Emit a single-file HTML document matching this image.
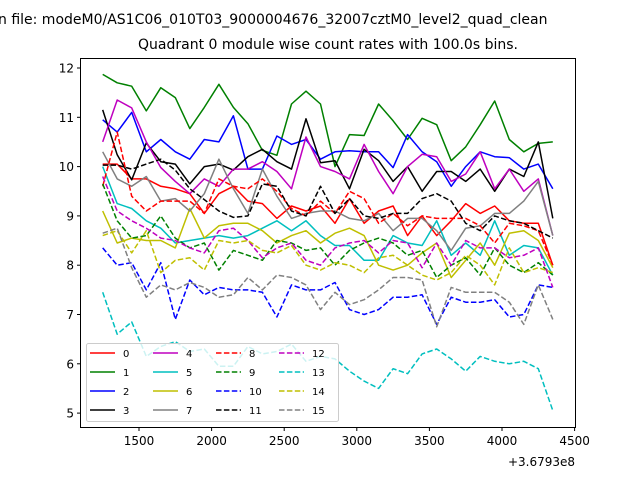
<!DOCTYPE html>
<html><head><meta charset="utf-8"><style>
body{margin:0;background:#fff}
svg{display:block;font-family:"DejaVu Sans","Liberation Sans",sans-serif}
</style></head><body>
<svg id="chart" width="640" height="480" viewBox="0 0 640 480">
<rect width="640" height="480" fill="#fff"/>
<text x="-2" y="24" font-size="14">n file: modeM0/AS1C06_010T03_9000004676_32007cztM0_level2_quad_clean</text>
<text x="328" y="49" font-size="14" text-anchor="middle">Quadrant 0 module wise count rates with 100.0s bins.</text>
<g id="axes"></g>
<g id="series"></g>
<g id="legend"></g>
<rect x="80.5" y="58.5" width="495" height="369" fill="none" stroke="#000" stroke-width="1"/>
<text x="575" y="466" font-size="12" text-anchor="end">+3.6793e8</text>
</svg>
<script>
const xTicks=[1500,2000,2500,3000,3500,4000,4500];
const yTicks=[5,6,7,8,9,10,11,12];
const times=[1250,1350,1450,1550,1650,1750,1850,1950,2050,2150,2250,2350,2450,2550,2650,2750,2850,2950,3050,3150,3250,3350,3450,3550,3650,3750,3850,3950,4050,4150,4250,4350];
const s0=[10.05,10.05,9.75,9.75,9.6,9.55,9.45,9.05,9.45,9.6,9.3,9.25,8.95,9.2,9.1,9.2,8.85,9.35,8.85,9.1,9.2,8.6,9.0,8.6,8.9,9.25,9.05,9.2,8.9,8.85,8.85,8.0];
const s1=[11.87,11.7,11.63,11.13,11.6,11.4,10.77,11.2,11.67,11.2,10.87,10.33,10.23,11.27,11.53,11.27,10.0,10.65,10.63,11.27,10.93,10.55,10.98,10.85,10.12,10.4,10.85,11.33,10.55,10.3,10.47,10.5];
const s2=[10.95,10.7,11.1,10.3,10.55,10.3,10.15,10.55,10.5,11.03,9.95,9.95,10.62,10.45,10.55,10.15,10.3,10.32,10.3,10.3,9.98,10.65,10.3,10.1,9.6,10.0,10.3,10.2,10.18,9.95,10.05,9.55];
const s3=[11.15,10.24,9.73,10.48,10.1,10.05,9.65,10.0,10.05,9.93,10.2,10.35,10.1,9.95,10.97,10.08,10.12,9.55,10.35,10.12,9.7,10.0,9.5,9.9,9.9,9.7,9.95,9.5,9.95,9.8,10.5,8.95];
const s4=[10.5,11.35,11.19,10.5,9.98,9.7,9.45,9.75,9.6,9.95,9.95,10.1,9.9,9.55,10.6,10.0,9.9,9.75,10.45,9.9,9.45,10.0,10.25,10.2,9.7,9.85,10.3,9.55,9.95,9.5,9.75,8.6];
const s5=[10.0,9.25,9.15,8.9,8.75,8.45,8.5,8.55,8.6,8.55,8.6,8.75,8.9,8.7,8.9,8.6,8.4,8.4,8.1,8.1,8.6,8.45,8.4,8.9,8.2,8.45,8.2,8.9,8.2,8.4,8.35,7.8];
const s6=[9.1,8.45,8.55,8.5,8.5,8.35,9.15,8.55,8.8,8.85,8.85,8.7,8.45,8.6,8.7,8.45,8.65,8.75,8.6,8.0,7.9,8.0,8.25,8.45,7.75,8.1,8.45,8.0,8.65,8.7,8.5,7.95];
const s7=[10.3,9.75,9.6,9.8,9.3,9.35,9.1,9.45,10.15,9.55,9.05,9.95,9.4,8.95,9.05,9.1,9.1,8.95,8.9,9.05,8.7,8.95,8.95,8.7,8.3,8.75,8.8,9.05,9.05,9.3,9.7,8.6];
const s8=[9.6,10.7,9.4,9.1,9.3,9.3,9.3,9.05,9.75,9.6,9.55,9.75,9.5,9.15,9.0,9.3,9.05,9.5,9.35,8.85,9.05,8.8,9.0,8.95,8.95,8.95,8.8,8.45,8.85,8.8,8.7,8.0];
const s9=[9.65,8.9,8.55,8.6,9.0,8.55,8.35,8.45,7.9,8.3,8.2,8.1,8.5,8.45,8.3,8.35,8.0,8.3,8.45,8.55,8.45,8.2,8.3,7.75,8.0,8.15,7.8,8.35,8.0,7.85,8.05,7.8];
const s10=[8.35,8.0,8.05,7.5,8.05,6.9,7.7,7.4,7.55,7.5,7.5,7.45,6.95,7.6,7.5,7.5,7.65,7.1,7.0,7.1,7.35,7.35,7.4,6.8,7.35,7.25,7.25,7.3,6.95,7.0,7.6,7.55];
const s11=[10.03,10.03,9.95,10.05,10.15,9.93,9.55,9.33,9.1,8.97,9.0,9.65,9.6,9.1,9.0,9.6,9.05,9.35,9.0,8.95,9.05,9.05,9.35,9.45,9.3,8.85,8.7,9.0,8.9,8.85,8.7,8.55];
const s12=[9.8,9.1,8.9,8.75,8.55,8.5,8.35,8.25,8.7,8.75,8.5,8.15,8.35,8.45,8.1,8.0,8.35,8.45,8.5,8.25,8.5,8.45,7.95,8.45,8.0,8.5,8.35,8.35,8.15,8.2,8.35,7.55];
const s13=[7.45,6.6,6.85,6.15,6.35,6.45,6.25,6.3,5.95,5.95,6.35,6.2,6.25,6.4,6.05,6.15,6.1,5.85,5.65,5.5,5.9,5.8,6.2,6.3,6.1,5.85,6.15,6.05,6.0,6.05,5.9,5.05];
const s14=[8.6,8.7,8.25,8.7,7.85,8.1,8.15,7.9,8.5,8.45,8.5,8.3,8.25,8.4,8.0,7.9,8.05,8.0,7.85,8.15,8.2,8.0,7.8,7.7,7.85,8.2,8.0,7.6,8.35,7.85,7.95,7.85];
const s15=[8.65,8.75,7.95,7.35,7.6,7.5,7.65,7.55,7.35,7.4,7.75,7.5,7.8,7.75,7.6,7.1,7.45,7.2,7.3,7.5,7.75,7.75,7.7,6.75,7.55,7.45,7.45,7.45,7.25,6.8,7.6,6.9];
const seriesLabels=["0","1","2","3","4","5","6","7","8","9","10","11","12","13","14","15"];
const allSeries=[s0,s1,s2,s3,s4,s5,s6,s7,s8,s9,s10,s11,s12,s13,s14,s15];
const colors=["#ff0000","#008000","#0000ff","#000000","#bf00bf","#00bfbf","#bfbf00","#808080"];
const NS="http://www.w3.org/2000/svg";
function xs(v){return 139+(v-1500)*0.1452;}
function ys(v){return 68+(12-v)*49.3;}
function mk(tag,attrs,parent){const e=document.createElementNS(NS,tag);for(const k in attrs)e.setAttribute(k,attrs[k]);parent.appendChild(e);return e;}
const axes=document.getElementById('axes');
xTicks.forEach(t=>{const x=xs(t);
 const l=mk('line',{x1:x,x2:x,y1:427,y2:431,stroke:'#000'},axes);
 
 
 const tx=mk('text',{x:x,y:445,'font-size':12,'text-anchor':'middle'},axes);tx.textContent=t;
 
 
});
yTicks.forEach(t=>{const y=ys(t);
 const l=mk('line',{x1:77,x2:81,y1:y,y2:y,stroke:'#000'},axes);
 
 
 const tx=mk('text',{x:74,y:y+4.5,'font-size':12,'text-anchor':'end'},axes);tx.textContent=t;
 
 
});
const sg=document.getElementById('series');
allSeries.forEach((arr,i)=>{
 const pts=arr.map((v,j)=>xs(times[j]).toFixed(1)+','+ys(v).toFixed(1)).join(' ');
 const a={points:pts,fill:'none',stroke:colors[i%8],'stroke-width':1.5,'stroke-linejoin':'round'};
 if(i>=8)a['stroke-dasharray']='5.5,2.4';
 const p=mk('polyline',a,sg);
 
 
});
const lg=document.getElementById('legend');
const box=mk('rect',{x:86.5,y:343.5,width:252,height:78,rx:2,fill:'#fff','fill-opacity':0.8,stroke:'#ccc'},lg);


seriesLabels.forEach((lab,i)=>{
 const col=Math.floor(i/4),row=i%4;
 const x0=90+col*63,y0=353+row*19;
 const a={x1:x0,x2:x0+25,y1:y0,y2:y0,stroke:colors[i%8],'stroke-width':1.5};
 if(i>=8)a['stroke-dasharray']='5.5,2.4';
 const l=mk('line',a,lg);
 
 
 const t=mk('text',{x:x0+33,y:y0+4,'font-size':10},lg);t.textContent=lab;
 
 
});
</script>
</body></html>
